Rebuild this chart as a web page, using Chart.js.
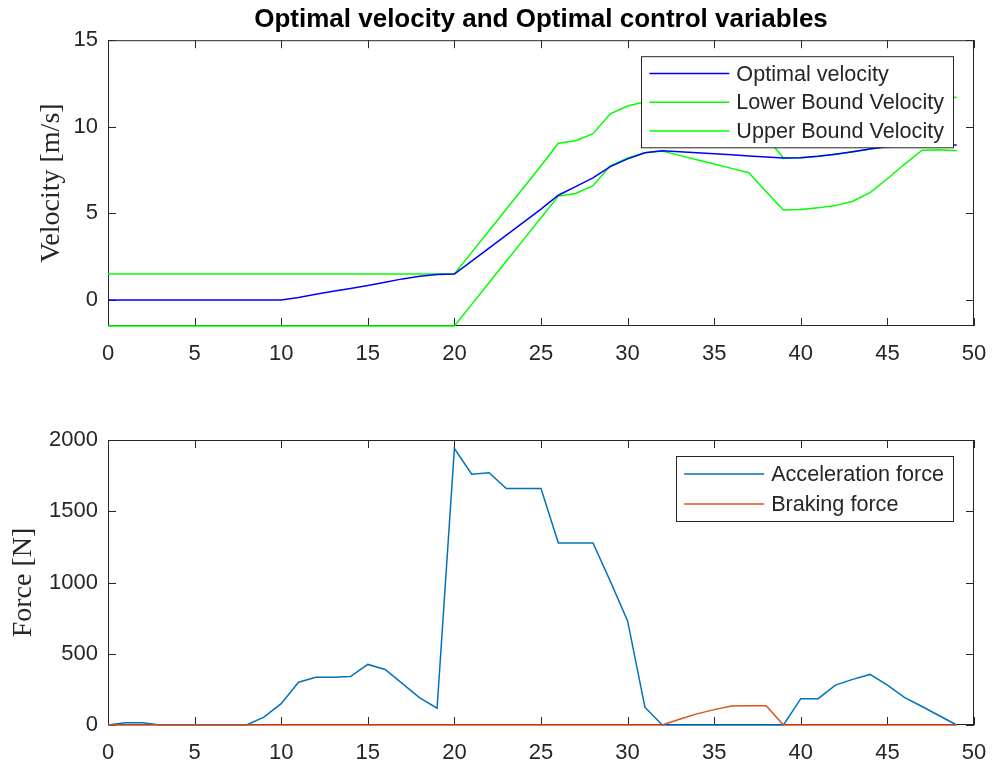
<!DOCTYPE html>
<html>
<head>
<meta charset="utf-8">
<script src="https://cdn.jsdelivr.net/npm/chart.js@4.4.1/dist/chart.umd.min.js"></script>
<style>
  html, body { margin: 0; padding: 0; background: #fff; }
  .panel { position: absolute; left: 0; width: 994px; }
  #topPanel { top: 0; height: 383px; }
  #bottomPanel { top: 383px; height: 384px; }
</style>
</head>
<body>
<div class="panel" id="topPanel"><canvas id="velocityChart"></canvas></div>
<div class="panel" id="bottomPanel"><canvas id="forceChart"></canvas></div>
<script>
// time steps (x axis)
const steps = [0, 1, 2, 3, 4, 5, 6, 7, 8, 9, 10, 11, 12, 13, 14, 15, 16, 17, 18, 19,
  20, 21, 22, 23, 24, 25, 26, 27, 28, 29, 30, 31, 32, 33, 34, 35, 36, 37, 38, 39,
  40, 41, 42, 43, 44, 45, 46, 47, 48, 49];

const optimalVelocity = [0, 0, 0, 0, 0, 0, 0, 0, 0, 0, 0, 0.15, 0.33, 0.5, 0.66, 0.84, 1.03, 1.22, 1.37, 1.48,
  1.5, 2.25, 3.0, 3.75, 4.5, 5.25, 6.05, 6.55, 7.05, 7.7, 8.15, 8.5, 8.62, 8.56, 8.5, 8.44, 8.38, 8.32, 8.26, 8.2,
  8.22, 8.3, 8.42, 8.56, 8.72, 8.85, 8.9, 8.92, 8.93, 8.95];

const lowerBound = [-1.5, -1.5, -1.5, -1.5, -1.5, -1.5, -1.5, -1.5, -1.5, -1.5, -1.5, -1.5, -1.5, -1.5, -1.5, -1.5, -1.5, -1.5, -1.5, -1.5,
  -1.5, -0.25, 1.0, 2.25, 3.5, 4.75, 6.0, 6.15, 6.6, 7.75, 8.2, 8.5, 8.6, 8.35, 8.1, 7.85, 7.6, 7.35, 6.25, 5.2,
  5.22, 5.32, 5.45, 5.7, 6.2, 7.0, 7.85, 8.65, 8.68, 8.62];

const upperBound = [1.5, 1.5, 1.5, 1.5, 1.5, 1.5, 1.5, 1.5, 1.5, 1.5, 1.5, 1.5, 1.5, 1.5, 1.5, 1.5, 1.5, 1.5, 1.5, 1.5,
  1.5, 2.75, 4.0, 5.25, 6.5, 7.75, 9.05, 9.2, 9.6, 10.75, 11.2, 11.45, 11.5, 11.3, 11.0, 10.6, 10.2, 9.8, 9.4, 8.2,
  8.22, 8.3, 8.42, 8.56, 8.72, 9.4, 10.2, 11.0, 11.6, 11.7];

const accelerationForce = [0, 15, 15, 0, 0, 0, 0, 0, 0, 55, 150, 300, 335, 335, 340, 425, 390, 290, 190, 118,
  1940, 1760, 1770, 1660, 1660, 1660, 1278, 1278, 1278, 1010, 730, 125, 0, 0, 0, 0, 0, 0, 0, 0,
  185, 185, 280, 320, 355, 280, 192, 130, 65, 0];

const brakingForce = [0, 0, 0, 0, 0, 0, 0, 0, 0, 0, 0, 0, 0, 0, 0, 0, 0, 0, 0, 0,
  0, 0, 0, 0, 0, 0, 0, 0, 0, 0, 0, 0, 0, 40, 78, 108, 133, 135, 135, 0,
  0, 0, 0, 0, 0, 0, 0, 0, 0, 0];

const stepTicks = [0, 5, 10, 15, 20, 25, 30, 35, 40, 45, 50];
const velocityTicks = [0, 5, 10, 15];
const forceTicks = [0, 500, 1000, 1500, 2000];

const axisColor = '#262626';
const sansFont = "'Liberation Sans', Arial, sans-serif";
const serifFont = "'Liberation Serif', 'Times New Roman', serif";

function toPoints(values) {
    return values.map((v, i) => ({ x: steps[i], y: v }));
}

function line(label, values, color) {
    return {
        label: label,
        data: toPoints(values),
        borderColor: color,
        backgroundColor: color,
        borderWidth: 1.5,
        pointRadius: 0,
        tension: 0,
        fill: false,
        clip: 4
    };
}

// matlab-like box with inward tick marks
const boxPlugin = {
    id: 'matlabBox',
    beforeDatasetsDraw(chart) {
        const { ctx, chartArea: a, scales } = chart;
        const len = 8;
        ctx.save();
        ctx.strokeStyle = axisColor;
        ctx.lineWidth = 1;
        ctx.strokeRect(a.left + 0.5, a.top + 0.5, a.right - a.left - 1, a.bottom - a.top - 1);
        ctx.beginPath();
        scales.x.ticks.forEach(t => {
            const px = Math.round(scales.x.getPixelForValue(t.value)) + 0.5;
            ctx.moveTo(px, a.bottom); ctx.lineTo(px, a.bottom - len);
            ctx.moveTo(px, a.top); ctx.lineTo(px, a.top + len);
        });
        scales.y.ticks.forEach(t => {
            const py = Math.round(scales.y.getPixelForValue(t.value)) + 0.5;
            ctx.moveTo(a.left, py); ctx.lineTo(a.left + len, py);
            ctx.moveTo(a.right, py); ctx.lineTo(a.right - len, py);
        });
        ctx.stroke();
        ctx.restore();
    }
};

// legend drawn inside the axes, top right
const insideLegend = {
    id: 'insideLegend',
    afterDatasetsDraw(chart, args, opts) {
        const { ctx, chartArea: a } = chart;
        const sets = chart.data.datasets;
        const rowH = opts.rowHeight;
        ctx.save();
        ctx.font = '21.6px ' + sansFont;
        const textW = Math.max(...sets.map(d => ctx.measureText(d.label).width));
        const sample = 80;
        const boxW = 8 + sample + 7 + textW + 9;
        const boxH = sets.length * rowH + 5;
        const right = a.right - 21;
        const top = a.top + 16;
        const left = right - boxW;
        ctx.fillStyle = '#fff';
        ctx.fillRect(left, top, boxW, boxH);
        ctx.strokeStyle = axisColor;
        ctx.lineWidth = 1;
        ctx.strokeRect(Math.round(left) + 0.5, top + 0.5, Math.round(boxW), boxH);
        sets.forEach((d, i) => {
            const cy = top + 3 + rowH * i + rowH / 2;
            ctx.strokeStyle = d.borderColor;
            ctx.lineWidth = 1.5;
            ctx.beginPath();
            ctx.moveTo(left + 8, cy);
            ctx.lineTo(left + 8 + sample, cy);
            ctx.stroke();
            ctx.fillStyle = axisColor;
            ctx.textBaseline = 'middle';
            ctx.textAlign = 'left';
            ctx.fillText(d.label, left + 8 + sample + 7, cy + 1);
        });
        ctx.restore();
    }
};

function xScale(height) {
    return {
        type: 'linear',
        min: 0,
        max: 50,
        afterBuildTicks: s => { s.ticks = stepTicks.map(v => ({ value: v })); },
        afterFit: s => {
            s.height = height;
            // let the layout padding alone decide the plot edges
            s.paddingLeft = 0;
            s.paddingRight = 0;
        },
        grid: { display: false, drawTicks: false },
        border: { display: false },
        ticks: {
            color: axisColor,
            padding: 15,
            maxRotation: 0,
            autoSkip: false,
            callback: v => String(v),
            font: { family: sansFont, size: 22 }
        }
    };
}

function yScale(min, max, tickValues, title, titlePad) {
    return {
        type: 'linear',
        min: min,
        max: max,
        afterBuildTicks: s => { s.ticks = tickValues.map(v => ({ value: v })); },
        afterFit: s => {
            s.width = 108;
            s.paddingTop = 0;
            s.paddingBottom = 0;
        },
        grid: { display: false, drawTicks: false },
        border: { display: false },
        ticks: {
            color: axisColor,
            padding: 10,
            callback: v => String(v),
            font: { family: sansFont, size: 22 }
        },
        title: {
            display: true,
            text: title,
            color: axisColor,
            padding: { top: titlePad, bottom: 0 },
            font: { family: serifFont, size: 28 }
        }
    };
}

new Chart(document.getElementById('velocityChart'), {
    type: 'line',
    data: {
        datasets: [
            line('Optimal velocity', optimalVelocity, '#0000ff'),
            line('Lower Bound Velocity', lowerBound, '#00ff00'),
            line('Upper Bound Velocity', upperBound, '#00ff00')
        ]
    },
    options: {
        responsive: true,
        maintainAspectRatio: false,
        animation: false,
        layout: { padding: { left: 0, right: 20, top: 0, bottom: 0 } },
        plugins: {
            legend: { display: false },
            tooltip: { enabled: false },
            title: {
                display: true,
                fullSize: false,
                text: 'Optimal velocity and Optimal control variables',
                color: '#000',
                padding: { top: 4, bottom: 5 },
                font: { family: sansFont, size: 26, weight: 'bold' }
            },
            insideLegend: { rowHeight: 28.7 }
        },
        scales: {
            x: xScale(57),
            y: yScale(-1.5, 15, velocityTicks, 'Velocity [m/s]', 35)
        }
    },
    plugins: [boxPlugin, insideLegend]
});

new Chart(document.getElementById('forceChart'), {
    type: 'line',
    data: {
        datasets: [
            Object.assign(line('Acceleration force', accelerationForce, '#0072bd'), { order: 1 }),
            Object.assign(line('Braking force', brakingForce, '#d95319'), { order: 0 })
        ]
    },
    options: {
        responsive: true,
        maintainAspectRatio: false,
        animation: false,
        layout: { padding: { left: 0, right: 20, top: 57, bottom: 0 } },
        plugins: {
            legend: { display: false },
            tooltip: { enabled: false },
            insideLegend: { rowHeight: 30 }
        },
        scales: {
            x: xScale(42),
            y: yScale(0, 2000, forceTicks, 'Force [N]', 7)
        }
    },
    plugins: [boxPlugin, insideLegend]
});
</script>
</body>
</html>
